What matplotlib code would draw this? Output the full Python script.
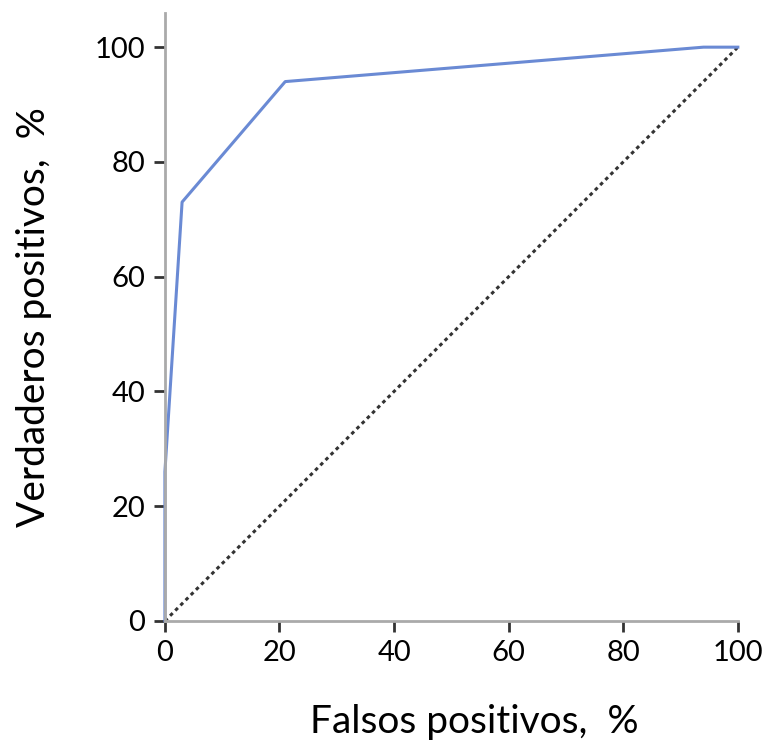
import matplotlib
matplotlib.use("Agg")
import matplotlib.pyplot as plt

# curva ROC (valores en %)
falsos_pos = [0, 0, 3, 21, 94, 100]
verdaderos_pos = [0, 26, 73, 94, 100, 100]
diag = [0, 100]
ticks = [0, 20, 40, 60, 80, 100]

plt.rcParams['font.family'] = ['Lato', 'DejaVu Sans']

fig = plt.figure(figsize=(7.67, 7.49), dpi=100)
ax = fig.add_axes([0.215, 0.171, 0.747, 0.812])

ax.plot(diag, diag, linestyle=(0, (1.2, 1.2)), color='#333333', linewidth=2.2)
ax.plot(falsos_pos, verdaderos_pos, color='#6a8ad4', linewidth=2.2, clip_on=False)

ax.set_xlim(0, 100)
ax.set_ylim(0, 106)
ax.set_xticks(ticks)
ax.set_yticks(ticks)
ax.tick_params(labelsize=21, length=8, width=2, color='#333333', pad=6)

for s in ['top', 'right']:
    ax.spines[s].set_visible(False)
for s in ['left', 'bottom']:
    ax.spines[s].set_color('#aaaaaa')
    ax.spines[s].set_linewidth(2)

ax.set_xlabel('Falsos positivos,  %', fontsize=28, labelpad=27)
ax.xaxis.label.set_x(0.54)
ax.set_ylabel('Verdaderos positivos,  %', fontsize=28, labelpad=31)

fig.savefig('out.png', dpi=100)
